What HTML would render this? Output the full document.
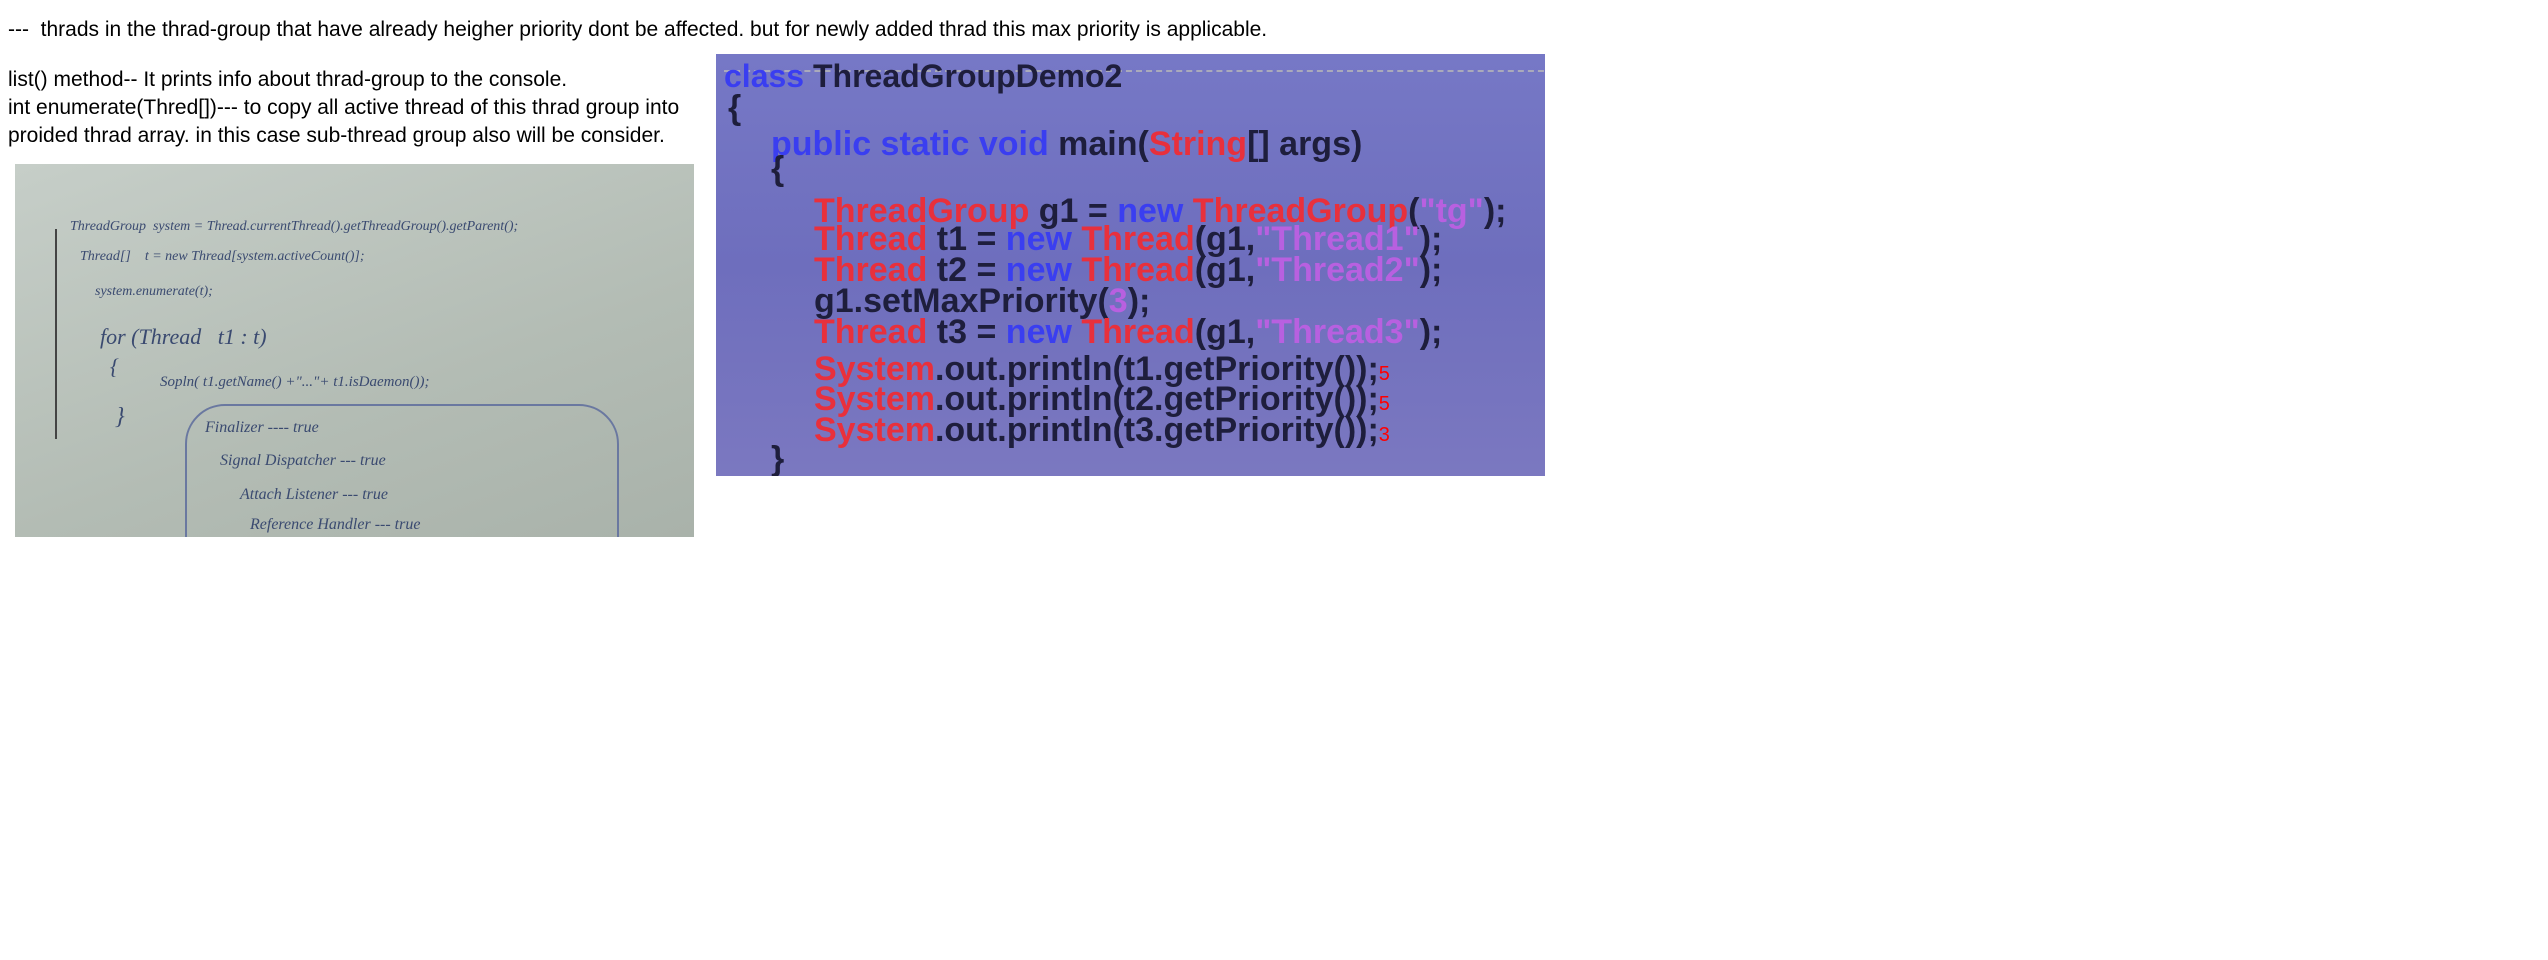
<!DOCTYPE html>
<html><head><meta charset="utf-8"><style>
body{margin:0;width:2548px;height:960px;background:#fff;position:relative;overflow:hidden;font-family:"Liberation Sans",sans-serif;}
.t{position:absolute;left:8px;font-size:21px;color:#000;white-space:nowrap;}
#L{position:absolute;left:15px;top:164px;width:679px;height:373px;background:linear-gradient(160deg,#c6cec8,#b3bcb4 60%,#a9b2aa);overflow:hidden;}
#L div{position:absolute;font-family:"Liberation Serif",serif;font-style:italic;color:#3a4a70;white-space:nowrap;}
#R{position:absolute;left:716px;top:54px;width:829px;height:422px;background:linear-gradient(180deg,#7678c6,#6e6ebd 50%,#7b78c0);overflow:hidden;}
#R div{position:absolute;font-family:"Liberation Sans",sans-serif;font-weight:bold;font-size:34px;line-height:40px;white-space:nowrap;color:#1e1e3c;}
.k{color:#3a3ef0}.r{color:#e8303c}.p{color:#b860e0}
</style></head><body>
<div class="t" style="top:18px">---&nbsp; thrads in the thrad-group that have already heigher priority dont be affected. but for newly added thrad this max priority is applicable.</div>
<div class="t" style="top:68px">list() method-- It prints info about thrad-group to the console.</div>
<div class="t" style="top:96px">int enumerate(Thred[])--- to copy all active thread of this thrad group into</div>
<div class="t" style="top:124px">proided thrad array. in this case sub-thread group also will be consider.</div>
<div id="L">
<div style="left:55px;top:55px;font-size:14px">ThreadGroup &nbsp;system = Thread.currentThread().getThreadGroup().getParent();</div>
<div style="left:65px;top:85px;font-size:14px">Thread[] &nbsp;&nbsp; t = new Thread[system.activeCount()];</div>
<div style="left:80px;top:120px;font-size:14px">system.enumerate(t);</div>
<div style="left:85px;top:160px;font-size:22px">for (Thread &nbsp; t1 : t)</div>
<div style="left:95px;top:190px;font-size:22px">{</div>
<div style="left:145px;top:210px;font-size:15px">Sopln( t1.getName() +"..."+ t1.isDaemon());</div>
<div style="left:100px;top:240px;font-size:24px">}</div>
<div style="left:190px;top:255px;font-size:16px">Finalizer ---- true</div>
<div style="left:205px;top:288px;font-size:16px">Signal Dispatcher --- true</div>
<div style="left:225px;top:322px;font-size:16px">Attach Listener --- true</div>
<div style="left:235px;top:352px;font-size:16px">Reference Handler --- true</div>
<div style="left:170px;top:240px;width:430px;height:200px;border:2px solid #6a78a0;border-radius:40px;"></div>
<div style="left:40px;height:210px;width:0;border-left:2px solid #444;top:65px"></div>
</div>
<div id="R">
<div style="left:8px;top:2px;width:830px;height:14px;border-bottom:2px dashed #aab;font-size:0"></div>
<div style="left:8px;top:2px;font-size:32px"><span class="k">class</span> ThreadGroupDemo2</div>
<div style="left:12px;top:34px">{</div>
<div style="left:55px;top:70px"><span class="k">public static void</span> main(<span class="r">String</span>[] args)</div>
<div style="left:55px;top:95px">{</div>
<div style="left:98px;top:137px"><span class="r">ThreadGroup</span> g1 = <span class="k">new</span> <span class="r">ThreadGroup</span>(<span class="p">"tg"</span>);</div>
<div style="left:98px;top:165px"><span class="r">Thread</span> t1 = <span class="k">new</span> <span class="r">Thread</span>(g1,<span class="p">"Thread1"</span>);</div>
<div style="left:98px;top:196px"><span class="r">Thread</span> t2 = <span class="k">new</span> <span class="r">Thread</span>(g1,<span class="p">"Thread2"</span>);</div>
<div style="left:98px;top:227px">g1.setMaxPriority(<span class="p">3</span>);</div>
<div style="left:98px;top:258px"><span class="r">Thread</span> t3 = <span class="k">new</span> <span class="r">Thread</span>(g1,<span class="p">"Thread3"</span>);</div>
<div style="left:98px;top:295px"><span class="r">System</span>.out.println(t1.getPriority());<span style="color:#f00;font-size:20px;font-weight:normal">5</span></div>
<div style="left:98px;top:325px"><span class="r">System</span>.out.println(t2.getPriority());<span style="color:#f00;font-size:20px;font-weight:normal">5</span></div>
<div style="left:98px;top:356px"><span class="r">System</span>.out.println(t3.getPriority());<span style="color:#f00;font-size:20px;font-weight:normal">3</span></div>
<div style="left:55px;top:385px">}</div>
</div>
</body></html>
